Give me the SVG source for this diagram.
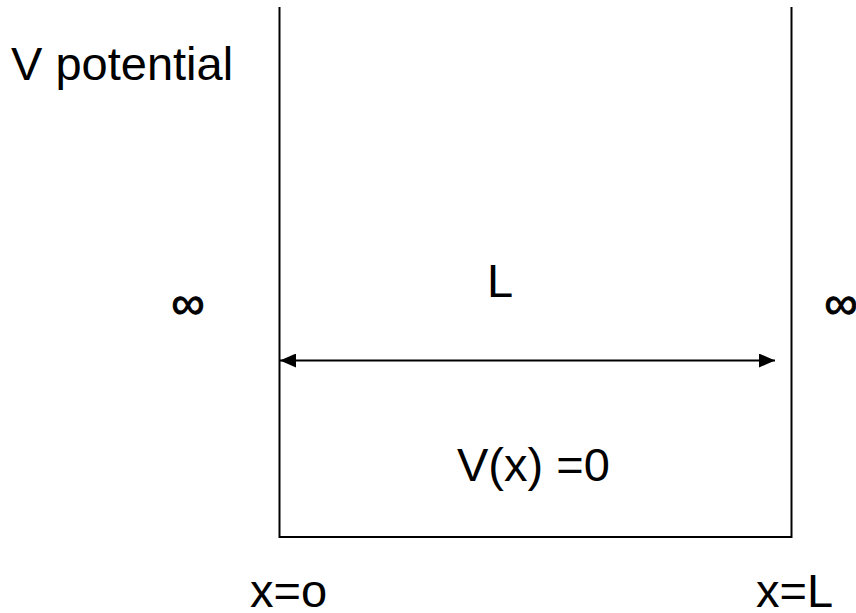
<svg xmlns="http://www.w3.org/2000/svg" width="856" height="613" viewBox="0 0 856 613">
<defs>
<style>
.t{font-family:"Liberation Sans",Arial,sans-serif;font-size:47px;fill:#000}
.inf{font-family:"Liberation Sans",Arial,sans-serif;font-size:47px;fill:#000;text-anchor:middle;stroke:#000;stroke-width:1}
.w{stroke:#000;stroke-width:2;fill:none}
</style>
<marker id="ah" viewBox="0 0 16 14" refX="16" refY="7" markerWidth="16" markerHeight="14" markerUnits="userSpaceOnUse" orient="auto-start-reverse">
<path d="M0,0 L16,7 L0,14 Z" fill="#000"/>
</marker>
</defs>
<rect width="856" height="613" fill="#fff"/>
<g id="well">
<polyline class="w" points="279.5,7 279.5,537 791.5,537 791.5,7"/>
</g>
<g id="connectors">
<line x1="280" y1="360.5" x2="775" y2="360.5" stroke="#000" stroke-width="2" marker-start="url(#ah)" marker-end="url(#ah)"/>
</g>
<g id="labels">
<text class="t" x="11" y="80">V potential</text>
<text class="t" x="487" y="297">L</text>
<text class="inf" x="188" y="319">∞</text>
<text class="inf" x="841" y="319">∞</text>
<text class="t" x="457" y="481">V(x) =0</text>
<text class="t" x="250" y="607">x=o</text>
<text class="t" x="756" y="607">x=L</text>
</g>
</svg>
